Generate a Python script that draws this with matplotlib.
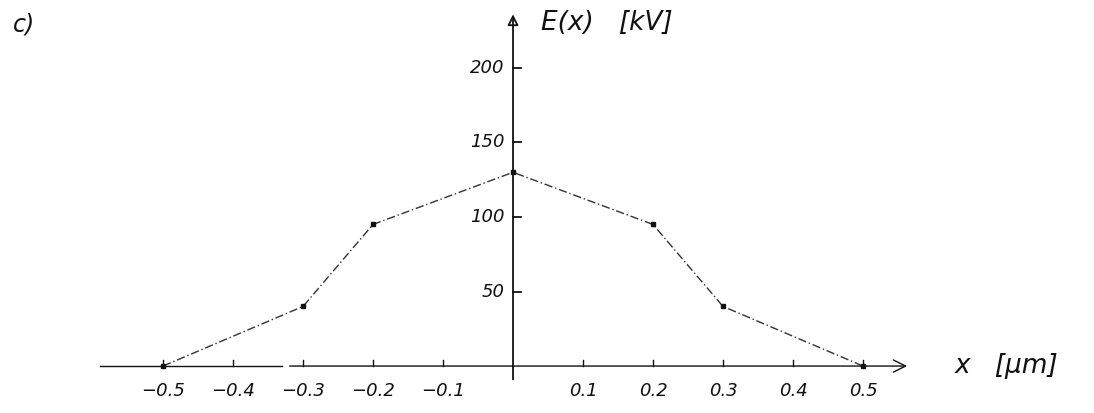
import matplotlib.pyplot as plt

# sampled field profile
x_um = [-0.5, -0.3, -0.2, 0.0, 0.2, 0.3, 0.5]
e_kv = [0, 40, 95, 130, 95, 40, 0]

x_ticks = [-0.5, -0.4, -0.3, -0.2, -0.1, 0.1, 0.2, 0.3, 0.4, 0.5]
x_tick_labels = ["\u22120.5", "\u22120.4", "\u22120.3", "\u22120.2", "\u22120.1",
                 "0.1", "0.2", "0.3", "0.4", "0.5"]
y_ticks = [50, 100, 150, 200]

INK = "#111111"
FONT = dict(family="DejaVu Sans", style="italic", color=INK)

fig = plt.figure(figsize=(10.94, 4.13), dpi=100)
ax = fig.add_axes([0, 0, 1, 1])
ax.set_xlim(-0.7329, 0.83)
ax.set_ylim(-31.5, 245.6)
for s in ax.spines.values():
    s.set_visible(False)
ax.set_xticks([])
ax.set_yticks([])

# axes drawn by hand: x axis (with its small gap) and y axis with arrows
ax.plot([-0.59, -0.33], [0, 0], color=INK, lw=1.0)
ax.annotate("", xy=(0.563, 0), xytext=(-0.319, 0),
            arrowprops=dict(arrowstyle="->", color=INK, lw=1.0, mutation_scale=22,
                            shrinkA=0, shrinkB=0))
ax.annotate("", xy=(0, 236), xytext=(0, -9),
            arrowprops=dict(arrowstyle="-|>", color=INK, lw=1.3, mutation_scale=16,
                            fill=False, shrinkA=0, shrinkB=0))

# tick marks and labels
for xt, lab in zip(x_ticks, x_tick_labels):
    ax.plot([xt, xt], [0, 4], color=INK, lw=1.0)
    ax.text(xt, -17, lab, ha="center", va="center", fontsize=13, **FONT)
for yt in y_ticks:
    ax.plot([0, 0.012], [yt, yt], color=INK, lw=1.3)
    ax.text(-0.012, yt, str(yt), ha="right", va="center", fontsize=13, **FONT)

# field curve
ax.plot(x_um, e_kv, color="#333333", lw=1.0, linestyle=(0, (6, 2, 1, 2)),
        marker="s", markersize=3, markerfacecolor=INK, markeredgecolor=INK)

ax.text(0.04, 230, "E(x)   [kV]", ha="left", va="center", fontsize=19, **FONT)
ax.text(0.631, 0, "x   [\u00b5m]", ha="left", va="center", fontsize=19, **FONT)
fig.text(0.012, 0.94, "c)", ha="left", va="center", fontsize=17, **FONT)

fig.savefig("out.png", dpi=100, facecolor="white")
